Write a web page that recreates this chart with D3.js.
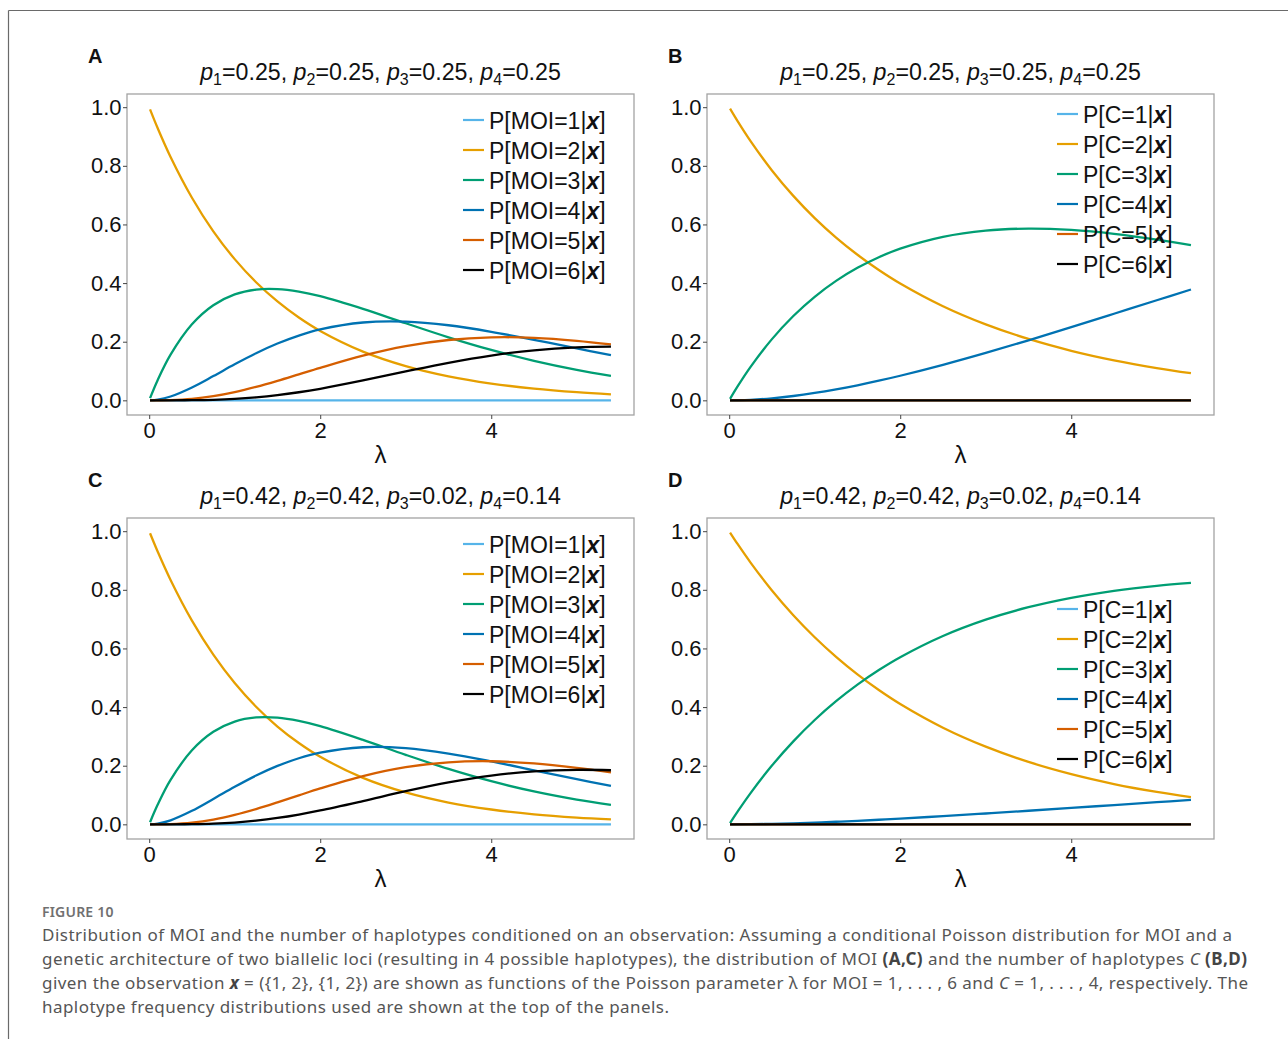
<!DOCTYPE html>
<html><head><meta charset="utf-8">
<script src="https://cdn.jsdelivr.net/npm/d3@7"></script>
<style>body{margin:0;background:#fff;}</style>
</head><body>
<svg id="fig" width="1288" height="1039"></svg>
<script>
// ---------- DATA ----------
const lambda = [0.01, 0.1, 0.25, 0.5, 0.75, 1, 1.25, 1.5, 1.75, 2, 2.5, 3, 3.5, 4, 4.5, 5, 5.4];
const zeros  = [0, 0, 0, 0, 0, 0, 0, 0, 0, 0, 0, 0, 0, 0, 0, 0, 0];

const xTicks = [0, 2, 4];
const yTicks = [0, 0.2, 0.4, 0.6, 0.8, 1.0];

// Panel A: p = 0.25 each, P[MOI=k|x]
const A_k1 = zeros;
const A_k2 = [.9926, .9280, .8303, .6912, .5765, .4817, .4029, .3374, .2826, .2369, .1664, .1169, .0819, .0573, .0399, .0277, .0207];
const A_k3 = [.0074, .0696, .1557, .2592, .3243, .3613, .3778, .3795, .3710, .3553, .3121, .2629, .2150, .1719, .1348, .1040, .0837];
const A_k4 = [0, .0024, .0132, .0441, .0828, .1229, .1607, .1937, .2209, .2418, .2655, .2684, .2561, .2339, .2064, .1770, .1539];
const A_k5 = [0, .0001, .0008, .0051, .0143, .0282, .0461, .0667, .0888, .1110, .1524, .1849, .2058, .2148, .2132, .2032, .1907];
const A_k6 = [0, 0, 0, .0005, .0019, .0050, .0103, .0178, .0276, .0395, .0678, .0987, .1282, .1529, .1708, .1808, .1833];

// Panel B: p = 0.25 each, P[C=k|x]
const B_k1 = zeros;
const B_k2 = [.9950, .9515, .8841, .7842, .6975, .6217, .5553, .4967, .4448, .3987, .3212, .2592, .2094, .1691, .1365, .1101, .0926];
const B_k3 = [.0050, .0482, .1140, .2088, .2877, .3532, .4074, .4519, .4882, .5174, .5577, .5791, .5858, .5812, .5680, .5484, .5293];
const B_k4 = [0, .0003, .0018, .0070, .0148, .0251, .0374, .0514, .0670, .0839, .1211, .1617, .2049, .2497, .2954, .3415, .3781];
const B_k5 = zeros;
const B_k6 = zeros;

// Panel C: p = 0.42, 0.42, 0.02, 0.14, P[MOI=k|x]
const C_k1 = zeros;
const C_k2 = [.9928, .9298, .8336, .6948, .5788, .4820, .4011, .3336, .2773, .2303, .1585, .1087, .0742, .0506, .0343, .0232, .0169];
const C_k3 = [.0072, .0676, .1516, .2527, .3158, .3507, .3648, .3641, .3530, .3351, .2882, .2371, .1890, .1471, .1123, .0843, .0664];
const C_k4 = [0, .0025, .0138, .0461, .0865, .1280, .1664, .1993, .2255, .2446, .2630, .2597, .2415, .2148, .1844, .1539, .1309];
const C_k5 = [0, .0001, .0009, .0058, .0162, .0321, .0521, .0749, .0988, .1225, .1647, .1951, .2117, .2152, .2078, .1927, .1770];
const C_k6 = [0, 0, 0, .0006, .0024, .0062, .0126, .0217, .0334, .0473, .0795, .1131, .1431, .1662, .1806, .1861, .1846];

// Panel D: p = 0.42, 0.42, 0.02, 0.14, P[C=k|x]
const D_k1 = zeros;
const D_k2 = [.9955, .9556, .8929, .7978, .7134, .6382, .5712, .5115, .4581, .4104, .3296, .2649, .2129, .1712, .1376, .1106, .0929];
const D_k3 = [.0045, .0443, .1067, .2005, .2831, .3559, .4200, .4764, .5262, .5700, .6424, .6982, .7407, .7728, .7966, .8138, .8238];
const D_k4 = [0, .0001, .0004, .0016, .0035, .0059, .0088, .0121, .0157, .0196, .0280, .0370, .0464, .0560, .0658, .0755, .0833];
const D_k5 = zeros;
const D_k6 = zeros;

const levels = ["1", "2", "3", "4", "5", "6"];
const colors = ["#56B4E9", "#E69F00", "#009E73", "#0072B2", "#D55E00", "#000000"];

const titleUniform = ["0.25", "0.25", "0.25", "0.25"];
const titleSkewed  = ["0.42", "0.42", "0.02", "0.14"];

const captionHead = "FIGURE 10";

// ---------- DRAW ----------
const FONT = "Liberation Sans, Arial, Helvetica, sans-serif";
const svg = d3.select("#fig");

// outer frame
svg.append("line").attr("x1", 8.5).attr("y1", 10.5).attr("x2", 1288).attr("y2", 10.5)
  .attr("stroke", "#6a6a6a").attr("stroke-width", 1.2);
svg.append("line").attr("x1", 8.5).attr("y1", 10.5).attr("x2", 8.5).attr("y2", 1039)
  .attr("stroke", "#6a6a6a").attr("stroke-width", 1.2);

function panel(cfg) {
  const { x0, x1, y0, y1, letter, title, series, prefix, legX, legY } = cfg;
  const g = svg.append("g");
  const x = d3.scaleLinear().domain([-0.2595, 5.6695]).range([x0, x1]);
  const y = d3.scaleLinear().domain([-0.05, 1.045]).range([y1, y0]);

  // panel border
  g.append("rect").attr("x", x0).attr("y", y0).attr("width", x1 - x0).attr("height", y1 - y0)
    .attr("fill", "none").attr("stroke", "#a3a3a3").attr("stroke-width", 1.3);

  // axes
  const ya = g.append("g").attr("transform", `translate(${x0},0)`)
    .call(d3.axisLeft(y).tickValues(yTicks).tickFormat(d3.format(".1f")).tickSize(4).tickPadding(1.5));
  const xa = g.append("g").attr("transform", `translate(0,${y1})`)
    .call(d3.axisBottom(x).tickValues(xTicks).tickFormat(d3.format("d")).tickSize(4).tickPadding(3));
  [ya, xa].forEach(a => {
    a.select(".domain").remove();
    a.selectAll(".tick line").attr("stroke", "#444").attr("stroke-width", 1);
    a.selectAll(".tick text").attr("font-family", FONT).attr("font-size", 22).attr("fill", "#111");
  });

  // lines
  const line = d3.line().x((d, i) => x(lambda[i])).y(d => y(d)).curve(d3.curveCatmullRom.alpha(0.5));
  series.forEach((s, k) => {
    g.append("path").datum(s).attr("d", line).attr("fill", "none")
      .attr("stroke", colors[k]).attr("stroke-width", 2.3).attr("stroke-linejoin", "round");
  });

  // legend
  levels.forEach((lv, k) => {
    const cy = legY + 30 * k;
    g.append("line").attr("x1", legX).attr("x2", legX + 21).attr("y1", cy).attr("y2", cy)
      .attr("stroke", colors[k]).attr("stroke-width", 2.2);
    const t = g.append("text").attr("x", legX + 26).attr("y", cy + 8.5)
      .attr("font-family", FONT).attr("font-size", 23).attr("fill", "#111");
    t.append("tspan").text(`P[${prefix}=${lv}|`);
    t.append("tspan").attr("font-weight", "bold").attr("font-style", "italic").text("x");
    t.append("tspan").text("]");
  });

  // panel letter
  g.append("text").attr("x", x0 - 39).attr("y", y0 - 31).attr("font-family", FONT)
    .attr("font-size", 20).attr("font-weight", "bold").attr("fill", "#111").text(letter);

  // title
  const tt = g.append("text").attr("x", (x0 + x1) / 2).attr("y", y0 - 14).attr("text-anchor", "middle")
    .attr("font-family", FONT).attr("font-size", 23.2).attr("fill", "#111");
  title.forEach((v, i) => {
    tt.append("tspan").attr("font-style", "italic").text("p");
    tt.append("tspan").attr("font-size", 16).attr("dy", 5).text(String(i + 1));
    tt.append("tspan").attr("dy", -5).text("=" + v + (i < 3 ? ", " : ""));
  });

  // x label
  g.append("text").attr("x", (x0 + x1) / 2).attr("y", y1 + 48).attr("text-anchor", "middle")
    .attr("font-family", FONT).attr("font-size", 24).attr("fill", "#111").text("λ");
}

panel({ x0: 127, x1: 634, y0: 94, y1: 415, letter: "A", title: titleUniform,
  series: [A_k1, A_k2, A_k3, A_k4, A_k5, A_k6], prefix: "MOI", legX: 463, legY: 120 });
panel({ x0: 707, x1: 1214, y0: 94, y1: 415, letter: "B", title: titleUniform,
  series: [B_k1, B_k2, B_k3, B_k4, B_k5, B_k6], prefix: "C", legX: 1057, legY: 114 });
panel({ x0: 127, x1: 634, y0: 518, y1: 839, letter: "C", title: titleSkewed,
  series: [C_k1, C_k2, C_k3, C_k4, C_k5, C_k6], prefix: "MOI", legX: 463, legY: 544 });
panel({ x0: 707, x1: 1214, y0: 518, y1: 839, letter: "D", title: titleSkewed,
  series: [D_k1, D_k2, D_k3, D_k4, D_k5, D_k6], prefix: "C", legX: 1057, legY: 609 });

// caption
const CFONT = "'Noto Sans', 'Open Sans', sans-serif";
svg.append("text").attr("x", 42).attr("y", 917).attr("font-family", CFONT).attr("font-size", 14)
  .attr("font-weight", 600).attr("fill", "#707070").attr("letter-spacing", 0.2).text(captionHead);

const capLines = [
  { y: 941, len: 1190, parts: [["Distribution of MOI and the number of haplotypes conditioned on an observation: Assuming a conditional Poisson distribution for MOI and a", ""]] },
  { y: 965, len: 1205, parts: [["genetic architecture of two biallelic loci (resulting in 4 possible haplotypes), the distribution of MOI ", ""], ["(A,C)", "b"], [" and the number of haplotypes ", ""], ["C", "i"], [" ", ""], ["(B,D)", "b"]] },
  { y: 989, len: 1206, parts: [["given the observation ", ""], ["x", "bi"], [" = ({1, 2}, {1, 2}) are shown as functions of the Poisson parameter λ for MOI = 1, . . . , 6 and ", ""], ["C", "i"], [" = 1, . . . , 4, respectively. The", ""]] },
  { y: 1013, len: 627, parts: [["haplotype frequency distributions used are shown at the top of the panels.", ""]] }
];
capLines.forEach(L => {
  const t = svg.append("text").attr("x", 42).attr("y", L.y).attr("font-family", CFONT)
    .attr("font-size", 17).attr("fill", "#555")
    .attr("textLength", L.len).attr("lengthAdjust", "spacing");
  L.parts.forEach(([s, st]) => {
    const sp = t.append("tspan").text(s);
    if (st.includes("b")) sp.attr("font-weight", "bold").attr("fill", "#444");
    if (st.includes("i")) sp.attr("font-style", "italic");
  });
});
</script>
</body></html>
